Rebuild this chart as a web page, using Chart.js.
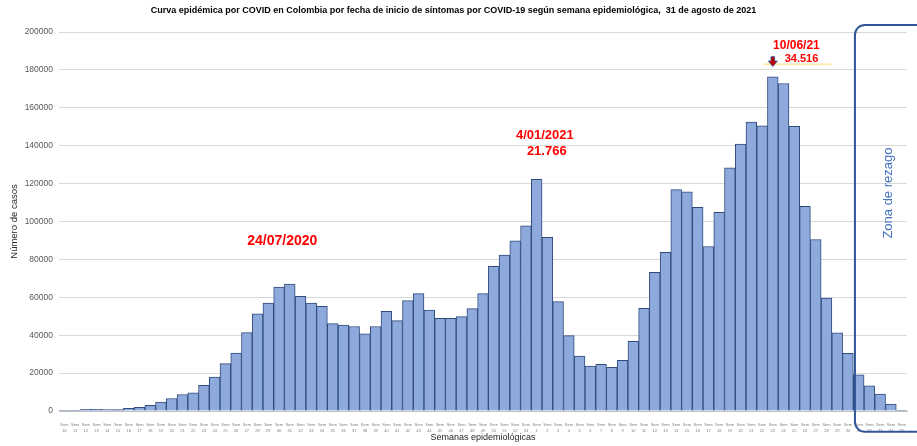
<!DOCTYPE html>
<html>
<head>
<meta charset="utf-8">
<script src="https://cdn.jsdelivr.net/npm/chart.js@4.4.1/dist/chart.umd.min.js"></script>
<style>
  html, body { margin: 0; padding: 0; background: #fff; }
</style>
</head>
<body>
<canvas id="grafico" width="917" height="446"></canvas>
<script>
// Semanas epidemiológicas (2020: 10-53, 2021: 1-35)
const semanas2020 = [10, 11, 12, 13, 14, 15, 16, 17, 18, 19, 20, 21, 22, 23, 24, 25, 26, 27, 28, 29, 30, 31,
  32, 33, 34, 35, 36, 37, 38, 39, 40, 41, 42, 43, 44, 45, 46, 47, 48, 49, 50, 51, 52, 53];
const semanas2021 = [1, 2, 3, 4, 5, 6, 7, 8, 9, 10, 11, 12, 13, 14, 15, 16, 17, 18, 19, 20, 21, 22, 23, 24,
  25, 26, 27, 28, 29, 30, 31, 32, 33, 34, 35];

// Número de casos
const casos2020 = [100, 200, 900, 900, 800, 700, 1400, 2000, 3000, 4700, 6600, 8700, 9600, 13600, 17900,
  25000, 30600, 41400, 51300, 57000, 65400, 67000, 60500, 57000, 55300, 46100, 45300, 44600, 40700, 44600,
  52600, 47700, 58300, 61900, 53200, 48900, 48900, 49800, 54000, 61900, 76300, 82300, 89800, 97700];
const casos2021 = [122300, 91600, 57700, 39800, 29000, 23700, 24600, 23000, 26800, 36800, 54200, 73200,
  83700, 116800, 115600, 107500, 86800, 104900, 128300, 140900, 152500, 150500, 176300, 172800, 150200,
  108000, 90500, 59600, 41200, 30400, 19100, 13300, 8900, 3700, 400];

const ticksY = [0, 20000, 40000, 60000, 80000, 100000, 120000, 140000, 160000, 180000, 200000];

const titulo = 'Curva epidémica por COVID en Colombia por fecha de inicio de síntomas por COVID-19 según semana epidemiológica,  31 de agosto de 2021';

const etiquetas = semanas2020.concat(semanas2021).map(s => ['Sem', String(s)]);
const casos = casos2020.concat(casos2021);

Chart.defaults.font.family = '"Liberation Sans", Arial, sans-serif';

// Textos y recuadro "Zona de rezago"
const anotaciones = {
  id: 'anotaciones',
  afterDatasetsDraw(chart) {
    const { ctx, scales: { x, y } } = chart;
    ctx.save();
    ctx.textAlign = 'center';
    ctx.textBaseline = 'middle';
    ctx.fillStyle = '#FF0000';

    ctx.font = 'bold 14px "Liberation Sans", Arial, sans-serif';
    ctx.fillText('24/07/2020', x.getPixelForValue(20.3), y.getPixelForValue(89700));

    ctx.font = 'bold 13px "Liberation Sans", Arial, sans-serif';
    ctx.fillText('4/01/2021', x.getPixelForValue(44.76), y.getPixelForValue(145600));
    ctx.fillText('21.766', x.getPixelForValue(44.94), y.getPixelForValue(137200));

    ctx.font = 'bold 12px "Liberation Sans", Arial, sans-serif';
    ctx.fillText('10/06/21', x.getPixelForValue(68.2), y.getPixelForValue(192800));
    ctx.font = 'bold 11px "Liberation Sans", Arial, sans-serif';
    ctx.fillText('34.516', x.getPixelForValue(68.67), y.getPixelForValue(185600));

    // línea amarilla bajo el pico
    ctx.strokeStyle = '#FFE699';
    ctx.lineWidth = 1.5;
    ctx.beginPath();
    ctx.moveTo(x.getPixelForValue(65.1), y.getPixelForValue(183000));
    ctx.lineTo(x.getPixelForValue(71.5), y.getPixelForValue(183000));
    ctx.stroke();

    // flecha hacia el pico
    const ax = x.getPixelForValue(66);
    const aTop = y.getPixelForValue(187000);
    const aBot = y.getPixelForValue(181800);
    const mid = aTop + (aBot - aTop) * 0.45;
    ctx.beginPath();
    ctx.moveTo(ax - 1.8, aTop);
    ctx.lineTo(ax + 1.8, aTop);
    ctx.lineTo(ax + 1.8, mid);
    ctx.lineTo(ax + 4.5, mid);
    ctx.lineTo(ax, aBot);
    ctx.lineTo(ax - 4.5, mid);
    ctx.lineTo(ax - 1.8, mid);
    ctx.closePath();
    ctx.fillStyle = '#C00000';
    ctx.fill();
    ctx.strokeStyle = '#2F5597';
    ctx.lineWidth = 0.8;
    ctx.stroke();

    // recuadro zona de rezago
    const left = x.getPixelForValue(73.65);
    const top = y.getPixelForValue(203700);
    const bottom = y.getPixelForValue(-11000);
    const r = 10;
    ctx.strokeStyle = '#2F5597';
    ctx.lineWidth = 2;
    ctx.beginPath();
    ctx.moveTo(chart.width + 5, top);
    ctx.lineTo(left + r, top);
    ctx.arcTo(left, top, left, top + r, r);
    ctx.lineTo(left, bottom - r);
    ctx.arcTo(left, bottom, left + r, bottom, r);
    ctx.lineTo(chart.width + 5, bottom);
    ctx.stroke();

    ctx.translate(x.getPixelForValue(76.8), y.getPixelForValue(115000));
    ctx.rotate(-Math.PI / 2);
    ctx.fillStyle = '#4472C4';
    ctx.font = '13px "Liberation Sans", Arial, sans-serif';
    ctx.fillText('Zona de rezago', 0, 0);
    ctx.restore();
  }
};

const ctx = document.getElementById('grafico').getContext('2d');
new Chart(ctx, {
  type: 'bar',
  data: {
    labels: etiquetas,
    datasets: [{
      label: 'Casos',
      data: casos,
      backgroundColor: '#8EA9DB',
      borderColor: '#2F4B7C',
      borderWidth: 1,
      barPercentage: 1,
      categoryPercentage: 1,
    }],
  },
  options: {
    responsive: false,
    animation: false,
    layout: { padding: { left: 0, right: 10, top: 0, bottom: 0 } },
    plugins: {
      legend: { display: false },
      tooltip: { enabled: false },
      title: {
        display: true,
        text: titulo,
        color: '#000',
        font: { size: 9, weight: 'bold', lineHeight: 1.2 },
        padding: { top: 5.5, bottom: 15.7 },
      },
    },
    scales: {
      x: {
        grid: { display: false },
        border: { color: '#BFBFBF' },
        ticks: {
          autoSkip: false, maxRotation: 0, minRotation: 0, padding: 3,
          color: '#7F7F7F', font: { size: 4, lineHeight: 1.5 },
        },
        title: {
          display: true, text: 'Semanas epidemiológicas', color: '#262626',
          font: { size: 9 }, padding: { top: 0, bottom: 3 },
        },
        afterFit(s) { s.height = 35; },
      },
      y: {
        min: 0,
        max: 200000,
        afterBuildTicks(s) { s.ticks = ticksY.map(v => ({ value: v })); },
        ticks: { color: '#595959', font: { size: 8.5 }, padding: 6, callback: v => String(v) },
        grid: { color: '#D9D9D9', drawTicks: false },
        border: { display: false },
        title: {
          display: true, text: 'Número de casos', color: '#262626',
          font: { size: 9.5 }, padding: { top: 9, bottom: 0 },
        },
        afterFit(s) { s.width = 59; },
      },
    },
  },
  plugins: [anotaciones],
});
</script>
</body>
</html>
